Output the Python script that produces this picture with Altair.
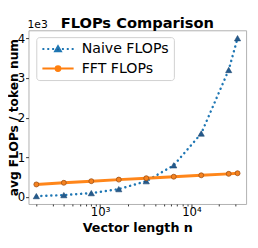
import altair as alt
import pandas as pd

# ---- data ----
n_values = [200, 400, 800, 1600, 3200, 6400, 12800, 25600, 32000]
naive_flops = [25, 50, 100, 200, 400, 800, 1600, 3200, 4000]
fft_flops = [318, 360, 400, 440, 475, 513, 548, 585, 600]
series_names = ["Naive FLOPs", "FFT FLOPs"]
line_colors = ["#1f77b4", "#ff7f0e"]
marker_fills = ["#245a8c", "#f5821f"]
x_tick_values = [200, 300, 400, 500, 600, 700, 800, 900, 1000,
                 2000, 3000, 4000, 5000, 6000, 7000, 8000, 9000, 10000,
                 20000, 30000]
y_tick_values = [0, 1000, 2000, 3000, 4000]

rows = []
for n, a, b in zip(n_values, naive_flops, fft_flops):
    rows.append({"n": n, "flops": a, "series": series_names[0]})
    rows.append({"n": n, "flops": b, "series": series_names[1]})
df = pd.DataFrame(rows)

FONT = "DejaVu Sans"

x_enc = alt.X(
    "n:Q",
    scale=alt.Scale(type="log", domain=[164, 39700], nice=False),
    axis=alt.Axis(
        values=x_tick_values,
        labelExpr="datum.value == 1000 ? '10³' : (datum.value == 10000 ? '10⁴' : '')",
        tickSize={"condition": {"test": "datum.value == 1000 || datum.value == 10000", "value": 3.5}, "value": 2},
        labelOverlap=False,
        labelPadding=-1,
        title="Vector length n",
        titlePadding=5,
    ),
)
y_enc = alt.Y(
    "flops:Q",
    scale=alt.Scale(domain=[-174, 4199], nice=False, zero=False),
    axis=alt.Axis(
        values=y_tick_values,
        labelExpr="format(datum.value / 1000, 'd')",
        tickSize=3,
        labelPadding=1,
        title="avg FLOPs / token num",
        titleFontSize=12.5,
        titlePadding=-3,
    ),
)

base = alt.Chart(df).encode(x=x_enc, y=y_enc)

naive_line = base.transform_filter(alt.datum.series == series_names[0]).mark_line(
    color=line_colors[0], strokeWidth=2.5, strokeDash=[0.1, 5], strokeCap="round"
)
naive_pts = base.transform_filter(alt.datum.series == series_names[0]).mark_point(
    shape="triangle-up", filled=True, size=40, opacity=1, fill=marker_fills[0],
    stroke="#1c4670", strokeWidth=0.6
)
fft_line = base.transform_filter(alt.datum.series == series_names[1]).mark_line(
    color=line_colors[1], strokeWidth=3, opacity=0.95
)
fft_pts = base.transform_filter(alt.datum.series == series_names[1]).mark_point(
    shape="circle", filled=True, size=26, opacity=1, fill=marker_fills[1],
    stroke="#9c4f14", strokeWidth=0.8
)

# legend symbols: line + marker drawn as one custom symbol path
naive_path = ("M-1.2,0L-0.8,0M-0.2,0L0.2,0M0.8,0L1.2,0"
              "M2.8,0L3.2,0M3.8,0L4.2,0M4.8,0L5.2,0"
              "M2,-0.6L2.6,0.45L1.4,0.45Z")
fft_path = ("M-1.2,0L5.2,0"
            "M2.5,0A0.5,0.5,0,1,1,1.5,0A0.5,0.5,0,1,1,2.5,0Z")

leg = alt.Legend(
    title=None, orient="none", legendX=8, legendY=7,
    padding=5, fillColor="white", strokeColor="#d0d0d0", cornerRadius=3,
    labelFont=FONT, labelFontSize=14.5, labelColor="black", labelOffset=27,
    symbolSize=100, symbolStrokeWidth=2, rowPadding=5,
)
legend_df = pd.DataFrame({"series": series_names})
legend_layer = alt.Chart(legend_df).transform_filter("false").mark_point(
    filled=False, strokeWidth=2, opacity=1
).encode(
    shape=alt.Shape("series:N", scale=alt.Scale(domain=series_names, range=[naive_path, fft_path]), legend=leg),
    stroke=alt.Stroke("series:N", scale=alt.Scale(domain=series_names, range=line_colors), legend=leg),
    fill=alt.Fill("series:N", scale=alt.Scale(domain=series_names, range=marker_fills), legend=leg),
)

offset_text = alt.Chart(pd.DataFrame({"t": ["1e3"]})).mark_text(
    align="left", baseline="alphabetic", font=FONT, fontSize=11, color="black"
).encode(text="t:N", x=alt.value(-1), y=alt.value(-2))

chart = alt.layer(
    naive_line, naive_pts, fft_line, fft_pts, legend_layer, offset_text
).properties(
    width=223, height=178,
    title=alt.TitleParams("FLOPs Comparison", font=FONT, fontSize=15, fontWeight="bold",
                          anchor="middle", offset=-12, color="black"),
    autosize=alt.AutoSizeParams(type="none"),
    padding={"left": 21, "top": 20, "right": 4, "bottom": 32},
).configure_view(
    stroke="#b0b0b0", strokeWidth=1
).configure_axis(
    domain=False, grid=False, tickColor="#333333",
    labelFont=FONT, labelFontSize=12, labelColor="black",
    titleFont=FONT, titleFontSize=13, titleFontWeight="bold", titleColor="black",
)

chart.save("out.html", embed_options={"renderer": "svg", "actions": False})
